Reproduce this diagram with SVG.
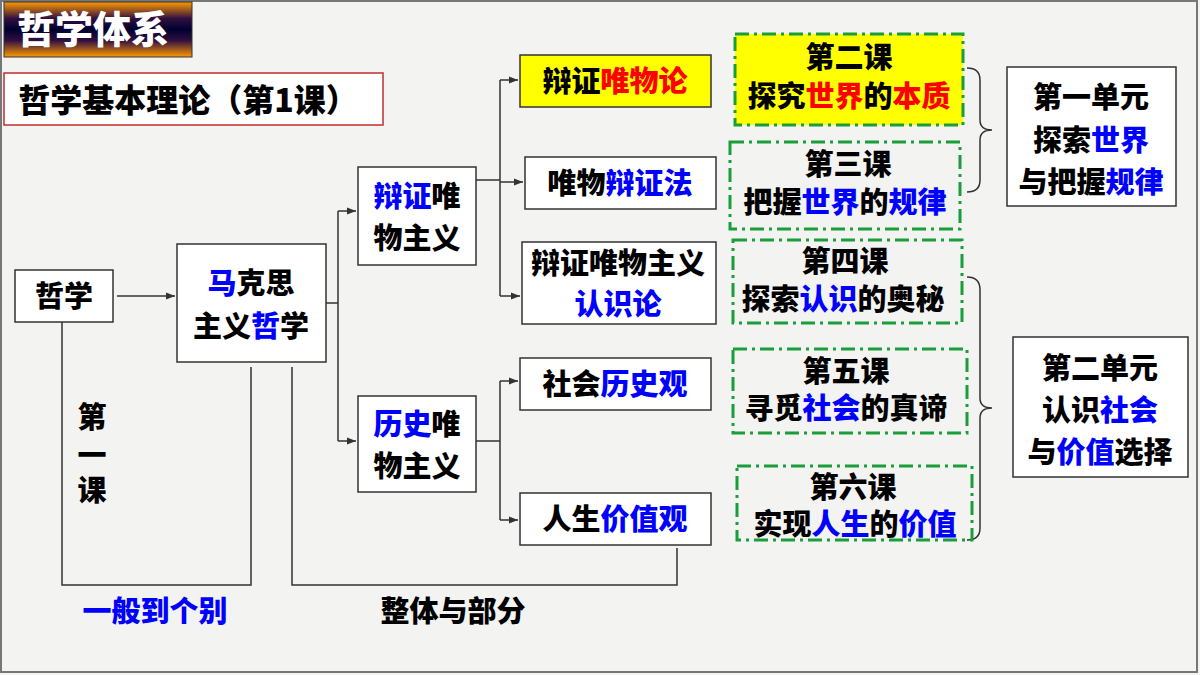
<svg xmlns="http://www.w3.org/2000/svg" width="1200" height="675" viewBox="0 0 1200 675">
<defs>
<linearGradient id="tg" x1="0" y1="0" x2="0" y2="1">
<stop offset="0" stop-color="#ff9900"/><stop offset="0.3" stop-color="#301040"/><stop offset="0.5" stop-color="#000030"/><stop offset="0.7" stop-color="#301040"/><stop offset="1" stop-color="#ff9900"/>
</linearGradient>
<marker id="ar" viewBox="0 0 10 10" refX="10" refY="5" markerWidth="6" markerHeight="6" orient="auto"><path d="M0,1 L10,5 L0,9 z" fill="#333"/></marker>
</defs>
<style>
text{font-family:"Noto Sans CJK SC","Liberation Sans",sans-serif;font-weight:900;fill:#000;text-anchor:middle;font-size:29px}
.b{fill:#0000ff}.r{fill:#ff0000}
.box{fill:#fff;stroke:#333;stroke-width:1.5}
.dd{fill:#fff;stroke:#1a9e3a;stroke-width:3;stroke-dasharray:14 5 3 5}
.ln{fill:none;stroke:#333;stroke-width:1.5}
</style>
<rect width="1200" height="675" fill="#f3f3f1"/>
<rect x="1" y="1" width="1196" height="671" fill="none" stroke="#777" stroke-width="2"/>
<g id="title"><rect x="4" y="2" width="188" height="55" fill="url(#tg)" stroke="#333"/><text x="93" y="43" style="fill:#fff;font-size:38px">哲学体系</text></g>
<g id="subtitle"><rect x="4" y="73" width="379" height="52" fill="#fff" stroke="#c03030" stroke-width="1.5"/><text x="188" y="112" style="font-size:32px">哲学基本理论（第1课）</text></g>
<g id="connectors">
<path class="ln" d="M117,296 H175" marker-end="url(#ar)"/>
<path class="ln" d="M326,303 H338 M338,211 V441"/>
<path class="ln" d="M338,211 H356" marker-end="url(#ar)"/>
<path class="ln" d="M338,441 H356" marker-end="url(#ar)"/>
<path class="ln" d="M476,180 H500 M500,80 V296"/>
<path class="ln" d="M500,80 H518" marker-end="url(#ar)"/>
<path class="ln" d="M500,182 H523" marker-end="url(#ar)"/>
<path class="ln" d="M500,296 H520" marker-end="url(#ar)"/>
<path class="ln" d="M476,441 H500 M500,381 V520"/>
<path class="ln" d="M500,381 H518" marker-end="url(#ar)"/>
<path class="ln" d="M500,520 H518" marker-end="url(#ar)"/>
<path class="ln" d="M62,322 V585 H251 V367"/>
<path class="ln" d="M292,367 V585 H677 V548"/>
<path class="ln" d="M967,68 Q980,68 980,80 V120 Q980,130 992,130 Q980,130 980,140 V180 Q980,192 967,192"/>
<path class="ln" d="M967,277 Q980,277 980,290 V398 Q980,408 992,408 Q980,408 980,418 V528 Q980,540 967,540"/>
</g>
<g id="zhexue"><rect class="box" x="15" y="270" width="98" height="52"/><text x="64" y="307">哲学</text></g>
<g id="makesi"><rect class="box" x="177" y="244" width="149" height="118"/><text x="251" y="294"><tspan class="b">马</tspan>克思</text><text x="251" y="337">主义<tspan class="b">哲</tspan>学</text></g>
<g id="bianzheng"><rect class="box" x="358" y="167" width="118" height="98"/><text x="417" y="207"><tspan class="b">辩证</tspan>唯</text><text x="417" y="249">物主义</text></g>
<g id="lishi"><rect class="box" x="358" y="396" width="118" height="96"/><text x="417" y="435"><tspan class="b">历史</tspan>唯</text><text x="417" y="477">物主义</text></g>
<g id="weiwulun"><rect class="box" x="520" y="55" width="191" height="52" style="fill:#ffff00"/><text x="615" y="92">辩证<tspan class="r">唯物论</tspan></text></g>
<g id="bianzhengfa"><rect class="box" x="525" y="157" width="191" height="52"/><text x="620" y="194">唯物<tspan class="b">辩证法</tspan></text></g>
<g id="renshilun"><rect class="box" x="522" y="242" width="194" height="82"/><text x="618" y="274">辩证唯物主义</text><text x="618" y="315" class="b">认识论</text></g>
<g id="lishiguan"><rect class="box" x="520" y="358" width="191" height="52"/><text x="615" y="395">社会<tspan class="b">历史观</tspan></text></g>
<g id="jiazhiguan"><rect class="box" x="520" y="493" width="191" height="52"/><text x="615" y="530">人生<tspan class="b">价值观</tspan></text></g>
<g id="ke2"><rect class="dd" x="735" y="34" width="228" height="91" style="fill:#ffff00"/><text x="849" y="68">第二课</text><text x="849" y="107">探究<tspan class="r">世界</tspan>的<tspan class="r">本质</tspan></text></g>
<g id="ke3"><rect class="dd" x="730" y="142" width="230" height="87" style="fill:none"/><text x="848" y="175">第三课</text><text x="845" y="213">把握<tspan class="b">世界</tspan>的<tspan class="b">规律</tspan></text></g>
<g id="ke4"><rect class="dd" x="733" y="240" width="229" height="83" style="fill:none"/><text x="845" y="272">第四课</text><text x="843" y="310">探索<tspan class="b">认识</tspan>的奥秘</text></g>
<g id="ke5"><rect class="dd" x="733" y="349" width="234" height="84" style="fill:none"/><text x="846" y="382">第五课</text><text x="846" y="419">寻觅<tspan class="b">社会</tspan>的真谛</text></g>
<g id="ke6"><rect class="dd" x="737" y="466" width="235" height="74" style="fill:none"/><text x="853" y="498">第六课</text><text x="855" y="535">实现<tspan class="b">人生</tspan>的<tspan class="b">价值</tspan></text></g>
<g id="unit1"><rect class="box" x="1007" y="67" width="169" height="139"/><text x="1091" y="108">第一单元</text><text x="1091" y="151">探索<tspan class="b">世界</tspan></text><text x="1091" y="193">与把握<tspan class="b">规律</tspan></text></g>
<g id="unit2"><rect class="box" x="1013" y="337" width="175" height="140"/><text x="1100" y="379">第二单元</text><text x="1100" y="421">认识<tspan class="b">社会</tspan></text><text x="1100" y="463">与<tspan class="b">价值</tspan>选择</text></g>
<g id="labels">
<text x="92" y="428">第</text><text x="92" y="466">一</text><text x="92" y="501">课</text>
<text x="155" y="622" class="b">一般到个别</text>
<text x="453" y="622">整体与部分</text>
</g>
</svg>
